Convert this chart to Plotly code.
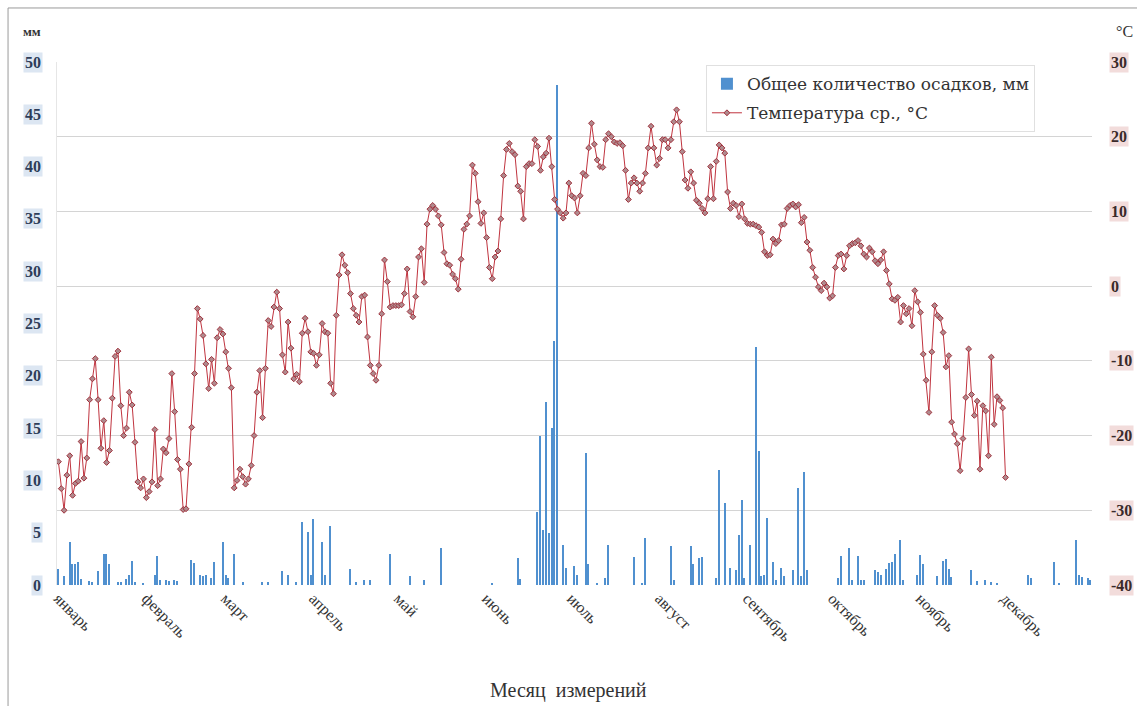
import plotly.graph_objects as go

# ---------------- data ----------------
month_names = ["январь", "февраль", "март", "апрель", "май", "июнь",
               "июль", "август", "сентябрь", "октябрь", "ноябрь", "декабрь"]
month_start_doy = [1, 32, 60, 91, 121, 152, 182, 213, 244, 274, 305, 335]

temp_jan = [-23.5, -27.1, -30.0, -25.3, -22.7, -28.0, -26.4, -26.1, -20.8, -25.7, -23.0, -15.2, -12.4, -9.7, -15.2,
            -21.7, -18.0, -23.6, -22.0, -15.0, -9.4, -8.7, -16.0, -20.0, -19.0, -14.2, -15.9, -20.9, -26.2, -27.0, -25.8]
temp_feb = [-28.3, -27.5, -26.2, -19.2, -26.7, -25.8, -21.8, -22.3, -20.4, -11.7, -16.8, -23.2, -24.5, -29.9,
            -29.8, -23.8, -18.9, -11.7, -3.0, -4.4, -6.6, -10.4, -13.7, -9.8, -13.0, -6.9, -5.8, -6.4]
temp_mar = [-8.8, -11.0, -13.6, -27.0, -26.0, -24.5, -25.5, -26.5, -25.8, -24.0, -20.0, -14.2, -11.3, -17.6, -11.0,
            -4.6, -5.4, -2.8, -0.8, -3.0, -9.2, -11.5, -4.8, -8.3, -12.4, -11.8, -12.8, -6.3, -4.3, -6.1, -8.8]
temp_apr = [-9.0, -10.6, -9.2, -5.0, -6.1, -6.3, -13.0, -14.4, -3.9, 1.5, 4.2, 2.8, 1.8, -1.0, -3.0,
            -3.9, -4.8, -1.4, -1.2, -6.8, -10.6, -11.7, -12.6, -10.6, -3.7, 3.5, 0.6, -2.8, -2.6, -2.6]
temp_may = [-2.6, -2.5, -1.0, 2.3, -3.4, -4.1, -1.4, 3.9, 5.0, 0.5, 8.3, 10.3, 10.8, 10.3, 9.4,
            8.2, 4.5, 3.0, 2.8, 1.6, 1.0, -0.4, 3.6, 7.6, 8.3, 9.4, 16.2, 15.1, 11.3, 8.4, 9.8]
temp_jun = [6.5, 2.5, 1.0, 3.9, 4.7, 9.0, 14.8, 18.3, 19.1, 18.0, 17.6, 13.4, 12.7, 9.0, 16.0,
            16.4, 16.4, 19.6, 18.7, 15.5, 17.3, 17.8, 19.8, 16.0, 11.6, 10.3, 9.8, 9.1, 9.8, 13.8]
temp_jul = [12.1, 11.8, 9.8, 12.1, 15.1, 14.8, 18.5, 21.8, 19.0, 16.9, 16.0, 15.9, 19.6, 20.4, 20.0,
            19.3, 19.1, 19.2, 18.8, 15.5, 11.6, 13.8, 14.5, 13.8, 12.7, 13.8, 15.1, 18.5, 21.4, 18.5, 16.2]
temp_aug = [17.1, 19.6, 19.6, 18.5, 19.6, 22.0, 23.6, 22.0, 18.0, 14.2, 13.1, 15.3, 13.8, 11.5, 11.1,
            10.4, 9.8, 11.7, 16.0, 11.7, 16.7, 18.9, 18.5, 17.8, 12.6, 10.4, 11.1, 10.8, 9.3, 11.0, 9.0]
temp_sep = [8.4, 8.3, 8.3, 8.1, 7.9, 7.2, 4.6, 4.1, 4.2, 6.3, 5.7, 6.1, 8.2, 8.3, 10.4,
            10.8, 11.0, 10.6, 10.9, 8.5, 9.2, 5.9, 4.8, 2.5, 1.2, -0.1, -0.6, 0.4, -0.1, -1.6]
temp_oct = [-1.3, 2.5, 4.1, 4.3, 2.3, 4.1, 5.4, 5.7, 5.8, 6.1, 5.4, 4.3, 3.9, 5.1, 4.6,
            3.4, 3.0, 3.5, 4.6, 2.1, 0.3, -1.7, -1.9, -1.5, -4.8, -2.6, -3.7, -3.0, -5.3, -0.6, -2.1]
temp_nov = [-3.5, -9.1, -12.6, -16.9, -8.8, -2.6, -3.9, -4.3, -6.2, -10.8, -9.3, -18.2, -19.8, -21.1, -24.7,
            -20.4, -14.9, -8.4, -14.5, -17.3, -15.4, -24.5, -16.0, -16.7, -22.7, -9.5, -18.5, -14.8, -15.3, -16.3]
temp_dec = [-25.6]

# daily precipitation (day of year, mm) - days with no bar are omitted
precip_doy = [1, 3, 5, 6, 7, 8, 9, 12, 13, 15, 17, 18, 19, 22, 23, 25, 26, 27, 28, 31,
              35, 36, 37, 39, 40, 42, 43, 48, 49, 51, 52, 53, 55, 56, 59, 60, 61, 63, 66, 73,
              75, 80, 82, 85, 87, 89, 90, 91, 94, 95, 97, 104, 106, 109, 111, 118, 125, 130, 136, 154,
              163, 164, 170, 171, 172, 173, 174, 175, 176, 177, 179, 180, 183, 184, 187, 188, 191, 194, 195, 204,
              207, 208, 217, 218, 224, 225, 227, 228, 233, 234, 236, 238, 240, 241, 242, 243, 245, 247, 248, 249,
              250, 251, 253, 254, 256, 257, 260, 262, 263, 264, 265, 276, 277, 280, 281, 283, 284, 285, 289, 290,
              291, 293, 294, 295, 296, 298, 299, 304, 305, 306, 311, 313, 314, 315, 316, 323, 325, 328, 330, 332,
              343, 344, 352, 354, 360, 361, 362, 364, 365]
precip_mm = [1.5, 0.9, 4.1, 2.0, 2.0, 2.2, 0.6, 0.4, 0.3, 1.3, 3.0, 3.0, 2.0, 0.3, 0.3, 0.6, 1.0, 2.3, 0.3, 0.2,
             1.0, 2.8, 0.5, 0.5, 0.4, 0.5, 0.4, 2.4, 2.1, 1.0, 0.9, 1.0, 0.7, 2.2, 4.1, 1.0, 0.7, 3.0, 0.3, 0.3,
             0.3, 1.3, 1.0, 0.3, 6.0, 5.1, 1.0, 6.3, 4.1, 1.0, 5.6, 1.5, 0.3, 0.5, 0.5, 3.0, 0.9, 0.5, 3.5, 0.2,
             2.6, 0.6, 7.0, 14.2, 5.3, 17.5, 5.0, 15.0, 23.3, 47.8, 3.8, 1.6, 1.8, 1.0, 12.6, 2.0, 0.2, 0.7, 3.8, 2.7,
             0.2, 4.5, 3.7, 0.5, 3.7, 2.0, 2.6, 2.7, 0.7, 11.0, 7.8, 1.6, 1.4, 4.8, 8.1, 0.7, 3.8, 22.8, 12.8, 0.9,
             1.0, 6.4, 2.2, 0.5, 1.6, 0.9, 1.4, 9.3, 0.9, 10.8, 1.4, 0.7, 2.8, 3.5, 0.5, 2.8, 0.5, 0.5, 1.4, 1.2,
             1.0, 1.5, 2.1, 2.2, 3.0, 4.3, 0.5, 1.0, 2.9, 2.0, 0.9, 2.3, 2.5, 1.5, 0.8, 1.4, 0.4, 0.5, 0.3, 0.2,
             1.0, 0.7, 2.2, 0.2, 4.3, 1.0, 0.8, 0.7, 0.5]

left_ticks = [0, 5, 10, 15, 20, 25, 30, 35, 40, 45, 50]
right_ticks = [-40, -30, -20, -10, 0, 10, 20, 30]

temp = (temp_jan + temp_feb + temp_mar + temp_apr + temp_may + temp_jun + temp_jul +
        temp_aug + temp_sep + temp_oct + temp_nov + temp_dec)
temp_doy = list(range(1, len(temp) + 1))

SERIF = "Liberation Serif"
WIDE_SERIF = "DejaVu Serif"

fig = go.Figure()
fig.add_trace(go.Bar(
    x=precip_doy, y=precip_mm, width=0.5,
    marker=dict(color="#5090CF", line=dict(width=0)),
    name="Общее количество осадков, мм", legendgroup="a",
))
fig.add_trace(go.Scatter(
    x=temp_doy, y=temp, yaxis="y2", mode="lines+markers",
    line=dict(color="#C0343F", width=1),
    marker=dict(symbol="diamond", size=4.5, color="#B08A8E", line=dict(color="#A0303B", width=1)),
    name="Температура ср., °C", legendgroup="b",
))

annotations = []
for v in left_ticks:
    annotations.append(dict(x=-0.0135, xref="paper", y=v, yref="y", xanchor="right", yanchor="middle",
                            text="<b>%d</b>" % v, showarrow=False, bgcolor="#DCE6F2",
                            font=dict(family=SERIF, size=16, color="#2E3D59")))
for v in right_ticks:
    annotations.append(dict(x=1.0165, xref="paper", y=v, yref="y2", xanchor="left", yanchor="middle",
                            text="<b>%d</b>" % v, showarrow=False, bgcolor="#F2DCDB",
                            font=dict(family=SERIF, size=16, color="#3A2A2A")))
annotations.append(dict(x=-0.024, xref="paper", y=1.058, yref="paper", xanchor="center", yanchor="middle",
                        text="<b>мм</b>", showarrow=False, font=dict(family=SERIF, size=13, color="#333333")))
annotations.append(dict(x=1.031, xref="paper", y=1.058, yref="paper", xanchor="center", yanchor="middle",
                        text="°C", showarrow=False, font=dict(family=SERIF, size=16, color="#333333")))
annotations.append(dict(x=0.494, xref="paper", y=-0.201, yref="paper", xanchor="center", yanchor="middle",
                        text="Месяц  измерений", showarrow=False,
                        font=dict(family=SERIF, size=20, color="#333333")))

fig.update_layout(
    width=1137, height=706,
    margin=dict(l=57, r=45, t=62, b=121, pad=0),
    paper_bgcolor="white", plot_bgcolor="white",
    bargap=0,
    font=dict(family=SERIF, size=14, color="#333333"),
    xaxis=dict(range=[0.5, 365.5], tickmode="array", tickvals=month_start_doy, ticktext=month_names,
               tickangle=45, showgrid=False, zeroline=False, showline=False, ticks="",
               tickfont=dict(family=SERIF, size=16, color="#333333")),
    yaxis=dict(range=[0, 50], showgrid=False, zeroline=False, showticklabels=False,
               showline=True, linecolor="#E6E6E6", linewidth=1, ticks=""),
    yaxis2=dict(range=[-40, 30], overlaying="y", side="right", dtick=10, showgrid=True,
                gridcolor="#D4D4D4", gridwidth=1, zeroline=False, showticklabels=False, ticks=""),
    legend=dict(x=0.627, y=0.994, xanchor="left", yanchor="top", bgcolor="white",
                bordercolor="#E0E0E0", borderwidth=1, tracegroupgap=4,
                font=dict(family=WIDE_SERIF, size=17, color="#333333")),
    annotations=annotations,
    shapes=[dict(type="rect", xref="paper", yref="paper", x0=-0.0473, y0=-0.6, x1=1.3, y1=1.1033,
                 line=dict(color="#9A9A9A", width=1), fillcolor="rgba(0,0,0,0)", layer="below")],
)

fig.write_html("out.html")
